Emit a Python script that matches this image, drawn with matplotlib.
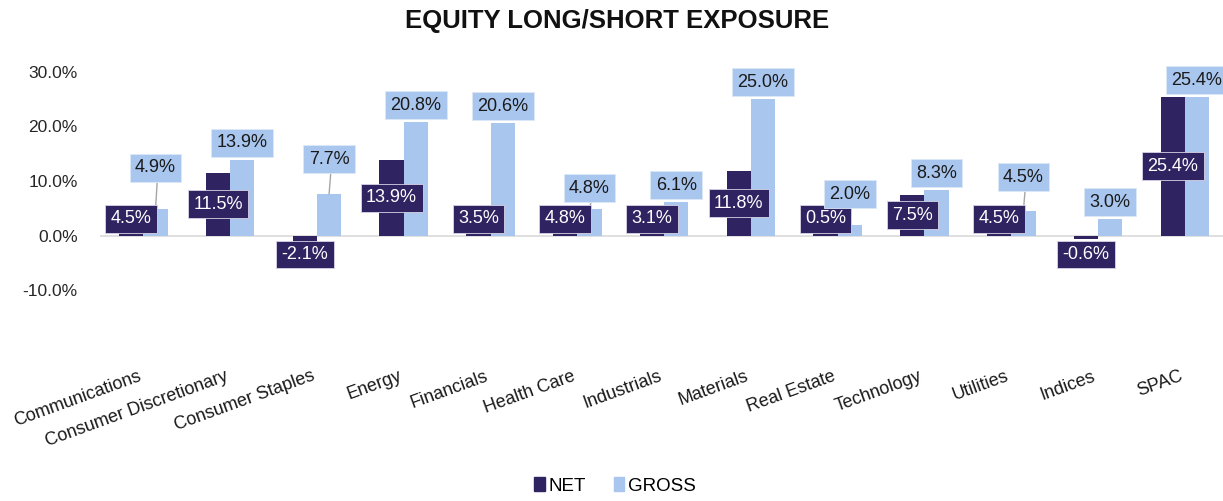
import matplotlib.pyplot as plt
from matplotlib.patches import Patch
import numpy as np

plt.rcParams['font.family'] = ['Liberation Sans', 'DejaVu Sans']

# chart data
sectors = ['Communications', 'Consumer Discretionary', 'Consumer Staples', 'Energy',
           'Financials', 'Health Care', 'Industrials', 'Materials', 'Real Estate',
           'Technology', 'Utilities', 'Indices', 'SPAC']
net = [4.5, 11.5, -2.1, 13.9, 3.5, 4.8, 3.1, 11.8, 0.5, 7.5, 4.5, -0.6, 25.4]
gross = [4.9, 13.9, 7.7, 20.8, 20.6, 4.8, 6.1, 25.0, 2.0, 8.3, 4.5, 3.0, 25.4]
y_ticks = [-10, 0, 10, 20, 30]

navy = '#2F2361'
light = '#A9C6EE'

# gross labels that were dragged up in the original (need a leader line)
gross_nudge = {'Communications': 4.4, 'Consumer Staples': 3.2, 'Health Care': 0.8,
               'Real Estate': 2.5, 'Utilities': 3.1}

fig = plt.figure(figsize=(12.23, 5.01), dpi=100)
ax = fig.add_axes([100 / 1223, 211 / 501, 1123 / 1223, 218 / 501])

x = np.arange(len(sectors))
w = 0.28
ax.bar(x - w / 2, net, w, color=navy, zorder=2)
ax.bar(x + w / 2, gross, w, color=light, zorder=2)

ax.set_xlim(-0.5, 12.44)
ax.set_ylim(-10, 30)
ax.axhline(0, color='#D9D9D9', lw=1.2, zorder=1)

# data labels
for i, name in enumerate(sectors):
    v = net[i]
    ny = max(v / 2, 3.1) if v >= 0 else -3.5
    ax.text(x[i] - w / 2, ny, f'{v:.1f}%', ha='center', va='center', fontsize=13,
            color='white', zorder=4,
            bbox=dict(boxstyle='square,pad=0.3', fc=navy, ec='#D8D4E8', lw=0.6))

    g = gross[i]
    nudge = gross_nudge.get(name, 0)
    gy = g + 3.1 + nudge
    if nudge > 0:
        ax.plot([x[i] + w / 2 + 0.02, x[i] + w / 2], [gy - 2.3, g], color='#A6A6A6',
                lw=1, zorder=3)
    ax.text(x[i] + w / 2, gy, f'{g:.1f}%', ha='center', va='center', fontsize=13,
            color='#1A1A1A', zorder=4,
            bbox=dict(boxstyle='square,pad=0.3', fc=light, ec='#DCE8F8', lw=0.6))

ax.set_yticks(y_ticks)
ax.set_yticklabels([f'{t:.1f}%' for t in y_ticks], fontsize=12.5, color='#262626')
ax.set_xticks(x)
ax.set_xticklabels(sectors, rotation=20, ha='right', fontsize=13, color='#1A1A1A')
ax.tick_params(axis='both', length=0)
ax.tick_params(axis='x', pad=56)
ax.tick_params(axis='y', pad=16)
for s in ax.spines.values():
    s.set_visible(False)

fig.text(0.505, 0.958, 'EQUITY LONG/SHORT EXPOSURE', ha='center', va='center',
         fontsize=18.5, fontweight='bold', color='#111111')

handles = [Patch(color=navy, label='NET'), Patch(color=light, label='GROSS')]
fig.legend(handles=handles, loc='center', bbox_to_anchor=(0.503, 0.03), ncol=2,
           frameon=False, fontsize=13.5, handlelength=0.55, handleheight=0.7,
           handletextpad=0.2, columnspacing=1.5)

fig.savefig('out.png', dpi=100)
